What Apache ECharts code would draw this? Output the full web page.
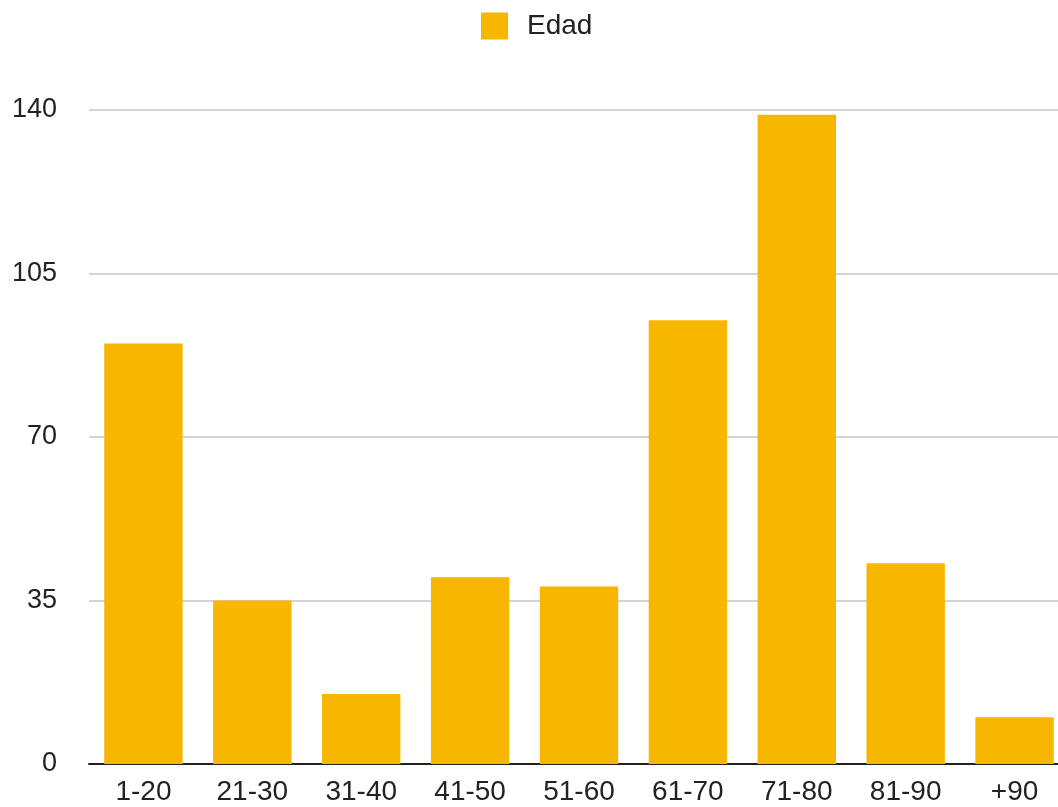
<!DOCTYPE html>
<html>
<head>
<meta charset="utf-8">
<script src="https://cdn.jsdelivr.net/npm/echarts@6/dist/echarts.min.js"></script>
<style>
html,body{margin:0;padding:0;background:#fff;overflow:hidden;}
#chart{width:1058px;height:807px;}
</style>
</head>
<body>
<div id="chart"></div>
<script>
const categories = ["1-20","21-30","31-40","41-50","51-60","61-70","71-80","81-90","+90"];
const edad = [90, 35, 15, 40, 38, 95, 139, 43, 10];
const seriesName = "Edad";
const yTicks = {min: 0, max: 140, interval: 35};

const chart = echarts.init(document.getElementById('chart'), null, {renderer: 'canvas'});
chart.setOption({
  animation: false,
  backgroundColor: '#ffffff',
  textStyle: {fontFamily: 'Liberation Sans, Arial, sans-serif'},
  legend: {
    top: 7,
    left: 476,
    itemWidth: 27,
    itemHeight: 27,
    icon: 'rect',
    textStyle: {fontSize: 28, color: '#222', padding: [0,0,0,14]},
    data: [seriesName]
  },
  grid: {left: 89, width: 980, top: 110, bottom: 43, containLabel: false, outerBoundsMode: 'none'},
  xAxis: {
    type: 'category',
    data: categories,
    axisLine: {lineStyle: {color: '#222', width: 2}},
    axisTick: {show: false},
    axisLabel: {fontSize: 28, color: '#222', margin: 14, interval: 0}
  },
  yAxis: {
    type: 'value',
    min: yTicks.min, max: yTicks.max, interval: yTicks.interval,
    axisLine: {show: false},
    axisTick: {show: false},
    axisLabel: {fontSize: 27, color: '#222', margin: 32},
    splitLine: {lineStyle: {color: '#d4d4d4', width: 2}}
  },
  series: [{
    name: seriesName,
    type: 'bar',
    data: edad,
    barWidth: '72%',
    itemStyle: {color: '#F7B600'}
  }]
});
</script>
</body>
</html>
